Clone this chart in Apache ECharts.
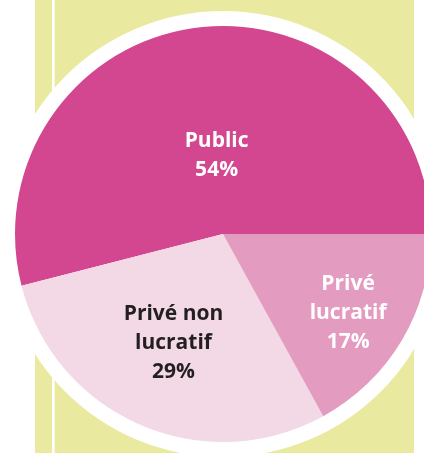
<!DOCTYPE html>
<html>
<head>
<meta charset="utf-8">
<script src="https://cdn.jsdelivr.net/npm/echarts@6/dist/echarts.min.js"></script>
<style>html,body{margin:0;padding:0;background:#fff;}#c{width:424px;height:453px;}</style>
</head>
<body>
<div id="c"></div>
<script>
const categories = ['Public', 'Privé non\nlucratif', 'Privé\nlucratif'];
const values = [54, 29, 17];
const sliceColors = ['#D2478F', '#F3D9E6', '#E39BBF'];
const labelColors = ['#ffffff', '#231F20', '#ffffff'];
const labelOffsets = [[7, 28], [-7, 11], [33, 25]];

const chart = echarts.init(document.getElementById('c'), null, {renderer: 'canvas'});
const center = [223, 234];
chart.setOption({
  animation: false,
  backgroundColor: '#ffffff',
  graphic: [
    {type: 'rect', z: -10, silent: true, shape: {x: 35, y: 0, width: 379, height: 453}, style: {fill: '#E9EA9F'}},
    {type: 'rect', z: -9, silent: true, shape: {x: 52, y: 0, width: 2.6, height: 453}, style: {fill: '#ffffff'}}
  ],
  series: [
    {
      type: 'pie', silent: true, center: center, radius: 223, z: 1,
      label: {show: false}, labelLine: {show: false},
      data: [{value: 1, itemStyle: {color: '#ffffff'}}]
    },
    {
      type: 'pie', center: center, radius: 208, z: 2,
      startAngle: 0, clockwise: false,
      labelLine: {show: false},
      label: {
        position: 'inside', fontFamily: 'Open Sans', fontWeight: 'bold', fontSize: 21,
        lineHeight: 29, align: 'center'
      },
      data: categories.map((c, i) => ({
        name: c,
        value: values[i],
        itemStyle: {color: sliceColors[i]},
        label: {
          color: labelColors[i],
          offset: labelOffsets[i],
          formatter: c + '\n' + values[i] + '%'
        }
      }))
    }
  ]
});
</script>
</body>
</html>
